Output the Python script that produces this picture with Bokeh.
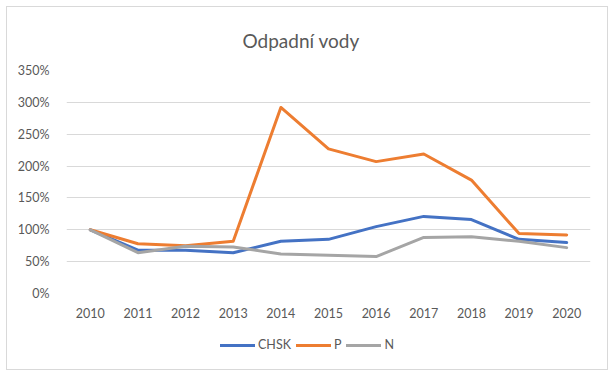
from bokeh.plotting import figure
from bokeh.layouts import column
from bokeh.models import (ColumnDataSource, Legend, LegendItem, Title, FixedTicker,
                          NumeralTickFormatter, Range1d)
from bokeh.embed import file_html
from bokeh.resources import INLINE

years = [2010, 2011, 2012, 2013, 2014, 2015, 2016, 2017, 2018, 2019, 2020]
chsk = [100, 68, 68, 64, 82, 85, 105, 121, 116, 85, 80]
p_vals = [100, 78, 75, 82, 292, 227, 207, 219, 178, 94, 92]
n_vals = [100, 64, 74, 73, 62, 60, 58, 88, 89, 82, 72]
y_ticks = [0, 50, 100, 150, 200, 250, 300, 350]

series = [("CHSK", chsk, "#4472C4"), ("P", p_vals, "#ED7D31"), ("N", n_vals, "#A5A5A5")]

FONT = "Lato"
TXT = "#595959"

p = figure(width=600, height=325, output_backend="svg", toolbar_location=None,
           x_range=Range1d(years[0] - 0.5, years[-1] + 0.5),
           y_range=Range1d(y_ticks[0] / 100, y_ticks[-1] / 100),
           min_border_left=59, min_border_right=17, min_border_top=63, min_border_bottom=39)
p.outline_line_color = None
p.background_fill_color = "white"
p.border_fill_color = "white"

t = Title(text="Odpadní vody", text_font=FONT, text_font_size="19px",
          text_font_style="normal", text_color=TXT, align="left", offset=176, standoff=38)
p.add_layout(t, "above")

# legend-only figure below the chart
lf = figure(width=600, height=37, output_backend="svg", toolbar_location=None,
            x_range=Range1d(0, 1), y_range=Range1d(10, 11),
            x_axis_type=None, y_axis_type=None, min_border=0)
lf.outline_line_color = None
lf.grid.visible = False

items = []
for name, vals, col in series:
    src = ColumnDataSource(dict(x=years, y=[v / 100 for v in vals]))
    p.line("x", "y", source=src, line_color=col, line_width=3,
           line_join="round", line_cap="round")
    r2 = lf.line("x", "y", source=src, line_color=col, line_width=3,
                 line_join="round", line_cap="round")
    items.append(LegendItem(label=name, renderers=[r2]))

p.xaxis.ticker = FixedTicker(ticks=years)
p.yaxis.ticker = FixedTicker(ticks=[v / 100 for v in y_ticks])
p.yaxis.formatter = NumeralTickFormatter(format="0%")
for ax in (p.xaxis[0], p.yaxis[0]):
    ax.axis_line_color = None
    ax.major_tick_line_color = None
    ax.minor_tick_line_color = None
    ax.major_label_text_font = FONT
    ax.major_label_text_font_size = "12.5px"
    ax.major_label_text_color = TXT
p.yaxis.major_label_standoff = 11
p.xaxis.major_label_standoff = 8

p.xgrid.grid_line_color = None
p.ygrid.grid_line_color = "#D9D9D9"
p.ygrid.grid_line_width = 1

legend = Legend(items=items, orientation="horizontal", location=(154, 17),
                glyph_width=35, glyph_height=12, label_standoff=3, spacing=5,
                label_width=0,
                padding=0, margin=0, border_line_color=None, background_fill_alpha=0,
                label_text_font=FONT, label_text_font_size="12.5px", label_text_color=TXT)
lf.add_layout(legend, "center")

layout = column(p, lf, spacing=0)
layout.margin = (6, 0, 0, 6)
layout.styles = {"border": "1px solid #D9D9D9"}

open("out.html", "w").write(file_html(layout, INLINE))
